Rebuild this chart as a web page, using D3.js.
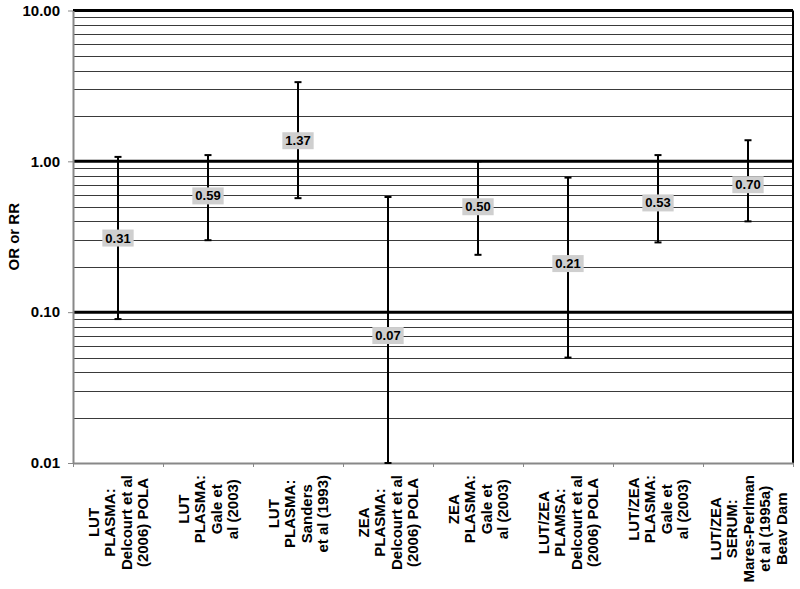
<!DOCTYPE html>
<html>
<head>
<meta charset="utf-8">
<script src="https://cdn.jsdelivr.net/npm/d3@7"></script>
<style>
    body { margin: 0; background: #fff; }
    svg { font-family: Arial, "Liberation Sans", sans-serif; }
</style>
</head>
<body>
<svg id="chart" width="800" height="589"></svg>
<script>
// study labels, one entry per line of the rotated label
const categories = [
    ['LUT', 'PLASMA:', 'Delcourt et al', '(2006) POLA'],
    ['LUT', 'PLASMA:', 'Gale et', 'al (2003)'],
    ['LUT', 'PLASMA:', 'Sanders', 'et al (1993)'],
    ['ZEA', 'PLASMA:', 'Delcourt et al', '(2006) POLA'],
    ['ZEA', 'PLASMA:', 'Gale et', 'al (2003)'],
    ['LUT/ZEA', 'PLAMSA:', 'Delcourt et al', '(2006) POLA'],
    ['LUT/ZEA', 'PLASMA:', 'Gale et', 'al (2003)'],
    ['LUT/ZEA', 'SERUM:', 'Mares-Perlman', 'et al (1995a)', 'Beav Dam']
];
const estimates = [0.31, 0.59, 1.37, 0.07, 0.50, 0.21, 0.53, 0.70];
const lowers = [0.09, 0.30, 0.57, 0.01, 0.24, 0.05, 0.29, 0.40];
const uppers = [1.07, 1.10, 3.35, 0.58, 1.00, 0.78, 1.10, 1.38];
const yTicks = [0.01, 0.1, 1, 10];

const svg = d3.select('#chart');
const plot = { left: 73, right: 793, top: 10.5, bottom: 463 };

const x = d3.scaleBand()
    .domain(d3.range(categories.length))
    .range([plot.left, plot.right]);
const y = d3.scaleLog()
    .domain([0.01, 10])
    .range([plot.bottom, plot.top])
    .clamp(true);

// minor gridlines (2..9 in each decade)
const minor = [];
[0.01, 0.1, 1].forEach((d) => {
    for (let k = 2; k <= 9; k++) minor.push(d * k);
});
svg.append('g')
    .selectAll('line')
    .data(minor)
    .join('line')
    .attr('x1', plot.left).attr('x2', plot.right)
    .attr('y1', (d) => Math.round(y(d)) + 0.5).attr('y2', (d) => Math.round(y(d)) + 0.5)
    .attr('stroke', '#3a3a3a')
    .attr('stroke-width', 1);

// major gridlines
svg.append('g')
    .selectAll('line')
    .data([0.1, 1, 10])
    .join('line')
    .attr('x1', plot.left).attr('x2', plot.right)
    .attr('y1', (d) => y(d)).attr('y2', (d) => y(d))
    .attr('stroke', '#000')
    .attr('stroke-width', 3);

// right border
svg.append('line')
    .attr('x1', plot.right).attr('x2', plot.right)
    .attr('y1', plot.top).attr('y2', plot.bottom)
    .attr('stroke', '#000')
    .attr('stroke-width', 2);

// y axis
const yAxis = svg.append('g')
    .attr('transform', `translate(${plot.left},0)`)
    .call(d3.axisLeft(y).tickValues(yTicks).tickFormat(d3.format('.2f')).tickSize(5).tickSizeOuter(0));
yAxis.select('.domain').attr('stroke', '#888').attr('stroke-width', 2);
yAxis.selectAll('.tick line').attr('stroke', '#888');
yAxis.selectAll('.tick text')
    .attr('font-size', 15)
    .attr('font-weight', 'bold')
    .attr('fill', '#000')
    .attr('x', -13)
    .attr('font-family', 'Arial, "Liberation Sans", sans-serif');

// x axis: ticks on category boundaries
const xb = d3.scaleLinear().domain([0, categories.length]).range([plot.left, plot.right]);
const xAxis = svg.append('g')
    .attr('transform', `translate(0,${plot.bottom})`)
    .call(d3.axisBottom(xb).tickValues(d3.range(categories.length + 1)).tickFormat('').tickSize(4).tickSizeOuter(0));
xAxis.select('.domain').attr('stroke', '#888').attr('stroke-width', 2);
xAxis.selectAll('.tick line').attr('stroke', '#888');

// y title
svg.append('text')
    .attr('transform', `translate(19,${(plot.top + plot.bottom) / 2}) rotate(-90)`)
    .attr('text-anchor', 'middle')
    .attr('font-size', 15)
    .attr('font-weight', 'bold')
    .text('OR or RR');

// category labels, rotated, lines centred
const lineH = 16.5;
categories.forEach((lines, i) => {
    const cx = x(i) + x.bandwidth() / 2;
    const g = svg.append('g');
    const texts = g.selectAll('text')
        .data(lines)
        .join('text')
        .attr('text-anchor', 'middle')
        .attr('font-size', 15)
        .attr('font-weight', 'bold')
        .text((d) => d);
    const maxW = d3.max(texts.nodes(), (n) => n.getComputedTextLength());
    const cy = 475 + maxW / 2;
    const x0 = cx - (lines.length - 1) * lineH / 2;
    texts.attr('transform', (d, j) => `translate(${x0 + j * lineH + 5.5},${cy}) rotate(-90)`);
});

// error bars
const bars = svg.append('g');
estimates.forEach((est, i) => {
    const cx = x(i) + x.bandwidth() / 2;
    bars.append('line')
        .attr('x1', cx).attr('x2', cx)
        .attr('y1', y(lowers[i])).attr('y2', y(uppers[i]))
        .attr('stroke', '#000').attr('stroke-width', 2);
    [lowers[i], uppers[i]].forEach((v) => {
        bars.append('line')
            .attr('x1', cx - 3.5).attr('x2', cx + 3.5)
            .attr('y1', y(v)).attr('y2', y(v))
            .attr('stroke', '#000').attr('stroke-width', 2);
    });
});

// value labels
estimates.forEach((est, i) => {
    const cx = x(i) + x.bandwidth() / 2;
    const cy = y(est);
    const g = svg.append('g');
    const rect = g.append('rect').attr('fill', '#cfcfcf');
    const t = g.append('text')
        .attr('x', cx).attr('y', cy + 4.5)
        .attr('text-anchor', 'middle')
        .attr('font-size', 13)
        .attr('font-weight', 'bold')
        .text(d3.format('.2f')(est));
    const w = t.node().getComputedTextLength() + 6;
    rect.attr('x', cx - w / 2).attr('y', cy - 8.5).attr('width', w).attr('height', 17);
});
</script>
</body>
</html>
